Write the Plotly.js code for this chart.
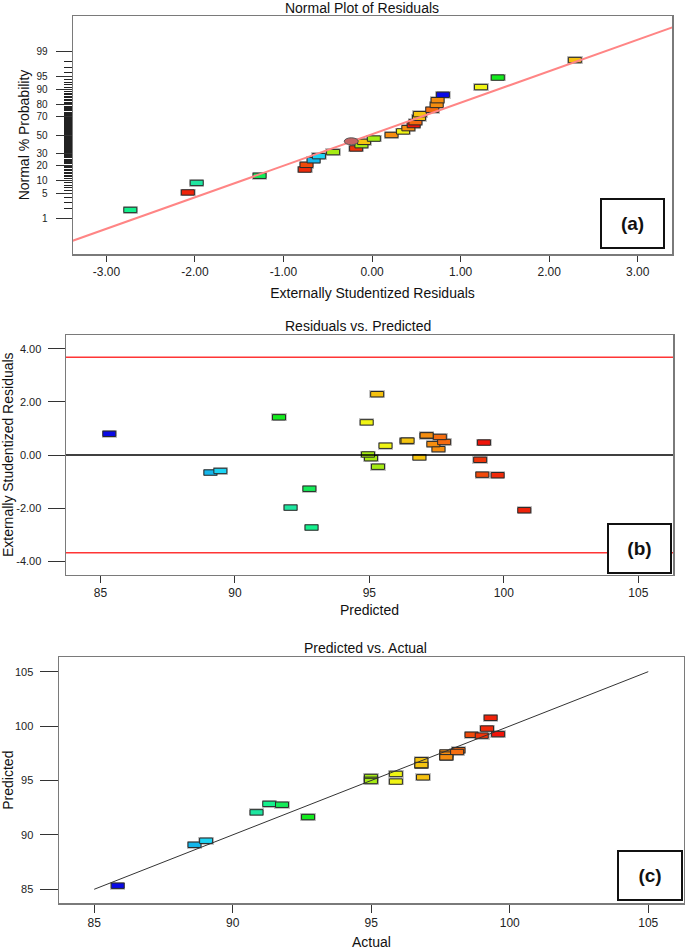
<!DOCTYPE html>
<html><head><meta charset="utf-8">
<script src="https://cdn.plot.ly/plotly-3.0.1.min.js"></script>
<style>html,body{margin:0;padding:0;background:#fff}#chart{width:685px;height:951px}</style>
</head><body><div id="chart"></div>
<script>
// ---------------- DATA (27 runs, ordered by externally studentized residual) ----------------
const residuals  = [-2.73,-2.08,-1.98,-1.27,-0.76,-0.74,-0.66,-0.60,-0.44,-0.18,-0.12,-0.09,0.02,0.22,0.35,0.41,0.47,0.49,0.53,0.54,0.68,0.73,0.74,0.80,1.23,1.42,2.29];
const normalProb = [1.8,5.4,9.0,12.7,16.7,20.2,24.0,27.7,31.6,35.3,38.8,42.4,46.0,50.0,54.0,57.6,61.0,64.0,68.5,72.0,76.0,80.0,83.5,87.0,91.0,94.6,98.2];
const predicted  = [92.85,100.76,92.07,92.77,99.77,99.20,89.09,89.46,95.32,99.12,95.06,96.86,94.95,97.57,95.60,97.38,99.26,97.78,96.38,96.42,97.62,97.13,97.13,85.33,94.90,91.64,95.29];
const actual     = [91.32,99.31,90.86,91.78,99.18,98.62,88.62,89.04,94.99,98.99,94.99,96.81,94.99,97.71,95.89,97.71,99.58,98.15,96.81,96.81,98.10,97.71,97.71,85.85,95.89,92.72,96.87];
const highlightResid = [-0.235];
const highlightProb  = [43];
// fitted normal line (a), limit lines (b), 1:1 line (c)
const fitLineX = [-3.38, 3.39];
const fitLineZ = [-2.96, 3.01];
const limitValues = [3.68, -3.68];
const diagLine = [85, 105];
// tick labels
const probTicks   = [1,5,10,20,30,50,70,80,90,95,99];
const residTicksA = [-3,-2,-1,0,1,2,3];
const residTicksB = [-4,-2,0,2,4];
const responseTicks = [85,90,95,100,105];

// ---------------- helpers ----------------
function probit(p){
  const a=[-3.969683028665376e+01,2.209460984245205e+02,-2.759285104469687e+02,1.383577518672690e+02,-3.066479806614716e+01,2.506628277459239e+00];
  const b=[-5.447609879822406e+01,1.615858368580409e+02,-1.556989798598866e+02,6.680131188771972e+01,-1.328068155288572e+01];
  const c=[-7.784894002430293e-03,-3.223964580411365e-01,-2.400758277161838e+00,-2.549732539343734e+00,4.374664141464968e+00,2.938163982698783e+00];
  const d=[7.784695709041462e-03,3.224671290700398e-01,2.445134137142996e+00,3.754408661907416e+00];
  const pl=0.02425, ph=1-pl; let q,r;
  if(p<pl){q=Math.sqrt(-2*Math.log(p));return (((((c[0]*q+c[1])*q+c[2])*q+c[3])*q+c[4])*q+c[5])/((((d[0]*q+d[1])*q+d[2])*q+d[3])*q+1);}
  if(p<=ph){q=p-0.5;r=q*q;return (((((a[0]*r+a[1])*r+a[2])*r+a[3])*r+a[4])*r+a[5])*q/(((((b[0]*r+b[1])*r+b[2])*r+b[3])*r+b[4])*r+1);}
  q=Math.sqrt(-2*Math.log(1-p));return -(((((c[0]*q+c[1])*q+c[2])*q+c[3])*q+c[4])*q+c[5])/((((d[0]*q+d[1])*q+d[2])*q+d[3])*q+1);
}
const W=685, H=951;
const FONT='Liberation Sans, Arial, sans-serif';
// panel geometry (pixels)
const P = {
  a:{x0:73,x1:672,y0:16,y1:254, xr:[-3.377,3.387], yr:[-3.33,3.33]},
  b:{x0:66,x1:673,y0:335,y1:574.5, xr:[83.72,106.29], yr:[-4.50,4.52]},
  c:{x0:59,x1:684,y0:657.3,y1:903, xr:[83.73,106.29], yr:[83.74,106.32]}
};
function dx(p,px){return px*(p.xr[1]-p.xr[0])/(p.x1-p.x0);}
function dy(p,px){return px*(p.yr[1]-p.yr[0])/(p.y1-p.y0);}
const cmin=Math.min(...actual), cmax=Math.max(...actual);
const cscale=[[0,'#0a0ae6'],[0.2,'#14b4eb'],[0.235,'#1ed7f5'],[0.365,'#1ee6a0'],[0.40,'#14f08c'],[0.43,'#14eb5a'],[0.5,'#14eb1e'],[0.666,'#a5eb14'],[0.73,'#f0f514'],[0.80,'#f5c30f'],[0.865,'#f58c0f'],[0.90,'#f5640f'],[0.94,'#f0410a'],[1,'#f0140a']];

function boxTraces(xs, ys, p, xa, ya){
  const w=dx(p,13), h=dy(p,5.4), w2=dx(p,15.5), h2=dy(p,7.8);
  return [
    {type:'bar', x:xs, y:ys.map(()=>h2), base:ys.map(v=>v-h2/2), width:xs.map(()=>w2),
     marker:{color:'rgba(150,150,150,0.55)', line:{width:0}}, xaxis:xa, yaxis:ya, hoverinfo:'skip', showlegend:false},
    {type:'bar', x:xs, y:ys.map(()=>h), base:ys.map(v=>v-h/2), width:xs.map(()=>w),
     marker:{color:actual, colorscale:cscale, cmin:cmin, cmax:cmax, line:{color:'#2a2a2a', width:1}},
     xaxis:xa, yaxis:ya, showlegend:false}
  ];
}

const zA = normalProb.map(v=>probit(v/100));
const traces = [];
traces.push({type:'scatter', mode:'lines', x:fitLineX, y:fitLineZ, line:{color:'#ff8585', width:2}, xaxis:'x', yaxis:'y', showlegend:false});
traces.push(...boxTraces(residuals, zA, P.a, 'x', 'y'));
limitValues.forEach(v=>traces.push({type:'scatter', mode:'lines', x:P.b.xr, y:[v,v], line:{color:'#ff3535', width:1.6}, xaxis:'x2', yaxis:'y2', showlegend:false}));
traces.push({type:'scatter', mode:'lines', x:P.b.xr, y:[0,0], line:{color:'#000', width:1.5}, xaxis:'x2', yaxis:'y2', showlegend:false});
traces.push(...boxTraces(predicted, residuals, P.b, 'x2', 'y2'));
traces.push({type:'scatter', mode:'lines', x:diagLine, y:diagLine, line:{color:'#333', width:1}, xaxis:'x3', yaxis:'y3', showlegend:false});
traces.push(...boxTraces(actual, predicted, P.c, 'x3', 'y3'));

const minorProb=[]; for(let i=2;i<=98;i++){ if(!probTicks.includes(i)) minorProb.push(i); }

const axBase = {showgrid:false, zeroline:false, showline:true, mirror:true, linecolor:'#7a7a7a', linewidth:1.5,
  ticks:'outside', tickcolor:'#333', tickwidth:1, tickfont:{family:FONT, size:12, color:'#222'}, fixedrange:true};
function dom(p){return {x:[p.x0/W, p.x1/W], y:[1-p.y1/H, 1-p.y0/H]};}
const dA=dom(P.a), dB=dom(P.b), dC=dom(P.c);
const tfont={family:FONT, size:14, color:'#111'};
const yTickFont={family:FONT, size:11, color:'#222'};

const layout = {
  width:W, height:H, margin:{l:0,r:0,t:0,b:0}, paper_bgcolor:'#fff', plot_bgcolor:'#fff',
  barmode:'overlay', bargap:0, showlegend:false, font:{family:FONT},
  title:{text:'Normal Plot of Residuals', font:tfont, x:362/W, xanchor:'center', y:1-8/H, yanchor:'middle', xref:'paper', yref:'paper'},
  xaxis:Object.assign({}, axBase, {domain:dA.x, anchor:'y', range:P.a.xr, tickmode:'array', tickvals:residTicksA, ticktext:residTicksA.map(v=>v.toFixed(2)), ticklen:6,
     title:{text:'Externally Studentized Residuals', font:tfont, standoff:10}}),
  yaxis:Object.assign({}, axBase, {domain:dA.y, anchor:'x', range:P.a.yr, tickmode:'array', tickvals:probTicks.map(v=>probit(v/100)), ticktext:probTicks.map(String), ticklen:16, ticklabelstandoff:6,
     tickfont:{family:FONT, size:10, color:'#222'},
     minor:{tickmode:'array', tickvals:minorProb.map(v=>probit(v/100)), ticks:'outside', ticklen:8, tickcolor:'#222', tickwidth:1, showgrid:false},
     title:{text:'Normal % Probability', font:tfont, standoff:3}}),
  xaxis2:Object.assign({}, axBase, {domain:dB.x, anchor:'y2', range:P.b.xr, tickmode:'array', tickvals:responseTicks, ticktext:responseTicks.map(String), ticklen:7,
     title:{text:'Predicted', font:tfont, standoff:6}}),
  yaxis2:Object.assign({}, axBase, {domain:dB.y, anchor:'x2', range:P.b.yr, tickmode:'array', tickvals:residTicksB, ticktext:residTicksB.map(v=>v.toFixed(2)), ticklen:17, ticklabelstandoff:4,
     tickfont:yTickFont, title:{text:'Externally Studentized Residuals', font:tfont, standoff:3}}),
  xaxis3:Object.assign({}, axBase, {domain:dC.x, anchor:'y3', range:P.c.xr, tickmode:'array', tickvals:responseTicks, ticktext:responseTicks.map(String), ticklen:8,
     title:{text:'Actual', font:tfont, standoff:8}}),
  yaxis3:Object.assign({}, axBase, {domain:dC.y, anchor:'x3', range:P.c.yr, tickmode:'array', tickvals:responseTicks, ticktext:responseTicks.map(String), ticklen:18, ticklabelstandoff:4,
     tickfont:yTickFont, title:{text:'Predicted', font:tfont, standoff:0}}),
  shapes:[
    {type:'circle', xref:'x', yref:'y', xsizemode:'pixel', ysizemode:'pixel', xanchor:highlightResid[0], yanchor:probit(highlightProb[0]/100),
     x0:-7, x1:7, y0:-3.5, y1:3.5, fillcolor:'#c46464', line:{color:'#555', width:1}}
  ],
  annotations:[
    {text:'Residuals vs. Predicted', xref:'paper', yref:'paper', x:358/W, y:1-326/H, xanchor:'center', yanchor:'middle', showarrow:false, font:tfont},
    {text:'Predicted vs. Actual', xref:'paper', yref:'paper', x:366/W, y:1-648/H, xanchor:'center', yanchor:'middle', showarrow:false, font:tfont},
    {text:'<b>(a)</b>', xref:'paper', yref:'paper', x:632.7/W, y:1-223.5/H, xanchor:'center', yanchor:'middle', showarrow:false,
     font:{family:FONT, size:19, color:'#111'}, bordercolor:'#111', borderwidth:2, borderpad:0, bgcolor:'#fff', width:61, height:47},
    {text:'<b>(b)</b>', xref:'paper', yref:'paper', x:639.5/W, y:1-548.5/H, xanchor:'center', yanchor:'middle', showarrow:false,
     font:{family:FONT, size:19, color:'#111'}, bordercolor:'#111', borderwidth:2, borderpad:0, bgcolor:'#fff', width:61, height:47},
    {text:'<b>(c)</b>', xref:'paper', yref:'paper', x:650/W, y:1-875.5/H, xanchor:'center', yanchor:'middle', showarrow:false,
     font:{family:FONT, size:19, color:'#111'}, bordercolor:'#111', borderwidth:2, borderpad:0, bgcolor:'#fff', width:62, height:47}
  ]
};
Plotly.newPlot('chart', traces, layout, {staticPlot:true, displayModeBar:false});
</script>
</body></html>
